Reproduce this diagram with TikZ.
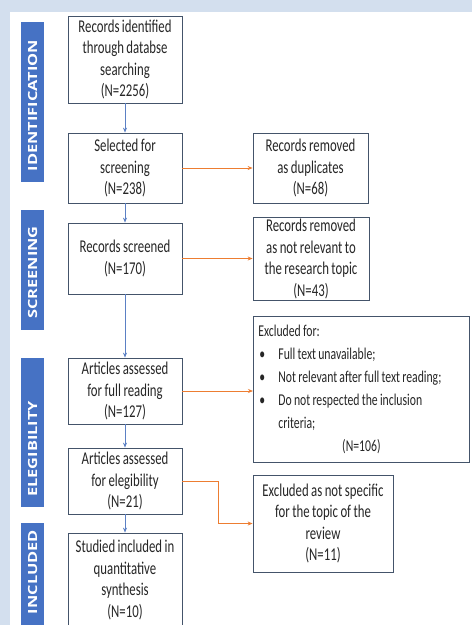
\documentclass[tikz,border=0pt]{standalone}
\usepackage{fontspec}
\setmainfont[FakeStretch=0.71,WordSpace=0.85]{Carlito}
\newfontfamily\lblfont[FakeStretch=1.3]{Open Sans}
\usetikzlibrary{arrows.meta}
\definecolor{bgblue}{RGB}{211,223,238}
\definecolor{lblblue}{RGB}{70,114,196}
\definecolor{boxline}{RGB}{68,84,106}
\definecolor{arrblue}{RGB}{91,128,196}
\definecolor{arrorange}{RGB}{237,125,49}
\begin{document}
\begin{tikzpicture}[x=1pt,y=-1pt,
  box/.style={draw=boxline, line width=0.8pt, fill=white, align=center, inner sep=2pt,
    font=\fontsize{18}{21.5}\selectfont, text=black!85},
  mainbox/.style={box, minimum width=114},
  lblbox/.style={fill=lblblue, minimum width=23, inner sep=0pt},
  lbltext/.style={rotate=90, text=white, inner sep=0pt, font=\lblfont\bfseries\fontsize{12.6}{14}\selectfont},
  barr/.style={draw=arrblue, line width=0.8pt, -{Stealth[length=5pt,width=4pt]}},
  oarr/.style={draw=arrorange, line width=0.9pt, -{Stealth[length=5pt,width=4pt]}}
]
\useasboundingbox (0,0) rectangle (472,625);
\clip (0,0) rectangle (472,625);
\fill[bgblue] (0,0) rectangle (472,625);
\fill[white] (10,12) rectangle (472,625);

% stage labels
\node[lblbox, minimum height=160] (l1) at (32.5,102) {};
\node[lbltext] (t1) at (32.5,105.5) {IDENTIFICATION};
\node[lblbox, minimum height=120] (l2) at (32.5,270) {};
\node[lbltext] (t2) at (32.5,272.5) {SCREENING};
\node[lblbox, minimum height=149] (l3) at (32.5,432.5) {};
\node[lbltext] (t3) at (32.5,449) {ELEGIBILITY};
\node[lblbox, minimum height=104] (l4) at (32.5,575) {};
\node[lbltext] (t4) at (32.5,572) {INCLUDED};

% main column
\node[mainbox, minimum height=87] (b1) at (125,59.5) {Records identified\\through databse\\searching\\(N=2256)};
\node[mainbox, minimum height=70] (b2) at (125,168) {Selected for\\screening\\(N=238)};
\node[mainbox, minimum height=71] (b3) at (125,258.5) {Records screened\\(N=170)};
\node[mainbox, minimum height=66] (b4) at (125,391) {Articles assessed\\for full reading\\(N=127)};
\node[mainbox, minimum height=66] (b5) at (125,481) {Articles assessed\\for elegibility\\(N=21)};
\node[mainbox, minimum height=94] (b6) at (125,580) {Studied included in\\quantitative\\synthesis\\(N=10)};

% right column
\node[box, minimum width=115, minimum height=70] (r1) at (310.5,168) {Records removed\\as duplicates\\(N=68)};
\node[box, minimum width=116, minimum height=82] (r2) at (311,259) {Records removed\\as not relevant to\\the research topic\\(N=43)};
\node[box, anchor=north west, minimum width=216, minimum height=146, inner xsep=5pt, align=left,
      font=\fontsize{16.5}{23}\selectfont] (r3) at (253,316) {Excluded for:\\
\makebox[20pt][l]{\hspace{1pt}\textbullet}Full text unavailable;\\
\makebox[20pt][l]{\hspace{1pt}\textbullet}Not relevant after full text reading;\\
\makebox[20pt][l]{\hspace{1pt}\textbullet}Do not respected the inclusion\\
\hspace*{20pt}criteria;\\
\makebox[206pt][c]{(N=106)}};
\node[box, minimum width=140, minimum height=97] (r4) at (323,523.5) {Excluded as not specific\\for the topic of the\\review\\(N=11)};

% vertical flow
\draw[barr] (b1.south) -- (b2.north);
\draw[barr] (b2.south) -- (b3.north);
\draw[barr] (b3.south) -- (b4.north);
\draw[barr] (b4.south) -- (b5.north);
\draw[barr] (b5.south) -- (b6.north);

% exclusions
\draw[oarr] (b2.east) -- (r1.west);
\draw[oarr] (b3.east) -- (b3.east -| r2.west);
\draw[oarr] (b4.east) -- (b4.east -| r3.west);
\draw[oarr] (b5.east) -- ++(36,0) |- (r4.west);
\end{tikzpicture}
\end{document}
